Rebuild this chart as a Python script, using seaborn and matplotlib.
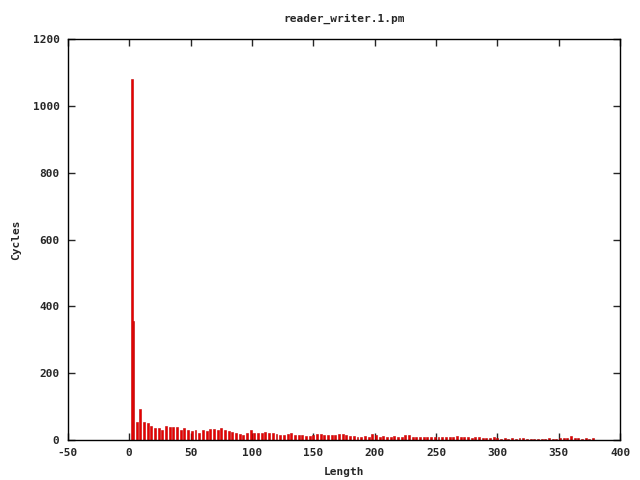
import matplotlib
matplotlib.use("Agg")
import matplotlib.pyplot as plt
import seaborn as sns

# lengths and cycle counts
first_lengths = [2, 3.5]
first_cycles = [1080, 355]

rest_cycles = [
    55, 93, 55, 51, 42, 37, 36, 30, 42, 39, 39, 39, 31, 37,   # 6..45
    30, 27, 30, 22, 30, 27, 33, 33, 30, 36, 30, 27, 24, 20,   # 48..87
    18, 15, 22, 31, 20, 22, 22, 24, 20, 20, 18, 16, 14, 18,   # 90..129
    22, 16, 14, 16, 13, 12, 16, 18, 17, 16, 14, 16, 16, 18,   # 132..171
    18, 14, 12, 12, 10, 10, 12, 10, 18, 14, 10, 12, 10, 10,   # 174..213
    12, 8, 8, 16, 16, 10, 8, 10, 8, 8, 10, 9, 8, 10,          # 216..255
    8, 8, 8, 12, 8, 10, 8, 6, 8, 8, 6, 6, 6, 8,               # 258..297
    6, 4, 5, 4, 7, 4, 7, 5, 4, 4, 4, 4, 4, 4,                 # 300..339
    5, 4, 4, 6, 5, 7, 12, 7, 6, 4, 5, 4, 5,                   # 342..378
]
rest_lengths = list(range(6, 6 + 3 * len(rest_cycles), 3))

lengths = first_lengths + rest_lengths
cycles = first_cycles + rest_cycles

sns.set_style("ticks")
plt.rcParams["font.family"] = ["DejaVu Sans Mono"]
plt.rcParams["font.weight"] = "bold"
plt.rcParams["axes.unicode_minus"] = False

fig = plt.figure(figsize=(6.4, 4.8), dpi=100)
ax = fig.add_axes([0.106, 0.083, 0.863, 0.836])

sns.barplot(x=lengths, y=cycles, native_scale=True,
            color="#e80000", saturation=1, errorbar=None, ax=ax)

# gnuplot-like boxes: fixed width around each length
box_w = 1.6
for p in ax.patches:
    c = p.get_x() + p.get_width() / 2
    p.set_width(box_w)
    p.set_x(c - box_w / 2)
    p.set_edgecolor("#c00000")
    p.set_linewidth(0.4)

ax.set_xlim(-50, 400)
ax.set_ylim(0, 1200)
ax.set_xticks(range(-50, 401, 50))
ax.set_yticks(range(0, 1201, 200))
ax.tick_params(direction="in", top=True, right=True, length=5, width=1,
               labelsize=8, pad=6)
for lab in ax.get_xticklabels() + ax.get_yticklabels():
    lab.set_fontweight("bold")
for s in ax.spines.values():
    s.set_linewidth(1)
    s.set_color("black")

ax.set_xlabel("Length", fontsize=8, fontweight="bold", labelpad=6)
ax.set_ylabel("Cycles", fontsize=8, fontweight="bold", labelpad=8)
ax.set_title("reader_writer.1.pm", fontsize=8, fontweight="bold", pad=12)

fig.savefig("out.png", dpi=100)
